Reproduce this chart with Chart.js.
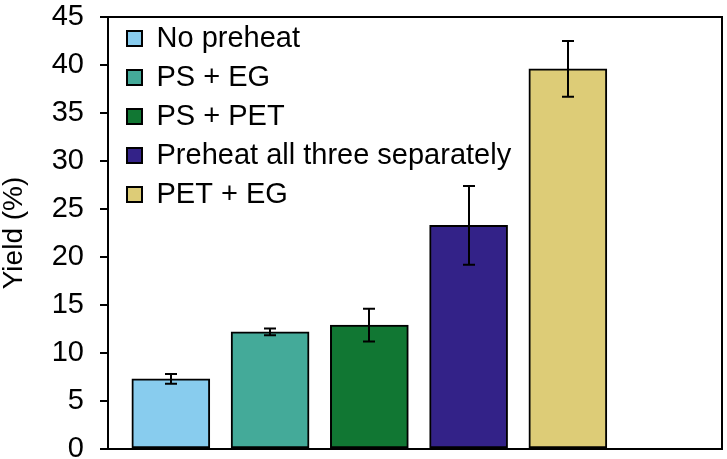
<!DOCTYPE html>
<html><head><meta charset="utf-8">
<script src="https://cdn.jsdelivr.net/npm/chart.js@4.4.1/dist/chart.umd.min.js"></script>
<style>html,body{margin:0;padding:0;background:#fff}#wrap{width:727px;height:459px}</style>
</head><body><div id="wrap"><canvas id="c" width="727" height="459"></canvas></div>
<script>
const categories = ['No preheat', 'PS + EG', 'PS + PET', 'Preheat all three separately', 'PET + EG'];
const yields = [7.3, 12.2, 12.9, 23.3, 39.6];
const errors = [0.5, 0.35, 1.7, 4.1, 2.9];
const colors = ['#88CCEE', '#44AA99', '#117733', '#332288', '#DDCC77'];
const yMin = 0, yMax = 45, yStep = 5;
const xMin = -0.633, xMax = 5.553;

const FONT = "'Liberation Sans', Arial, sans-serif";

const errorBars = {
  id: 'errorBars',
  afterDatasetsDraw(chart) {
    const {ctx, scales: {x, y}} = chart;
    ctx.save();
    ctx.strokeStyle = '#000';
    ctx.lineWidth = 2;
    const cap = 6;
    yields.forEach((v, i) => {
      const px = Math.round(x.getPixelForValue(i));
      const t = y.getPixelForValue(v + errors[i]);
      const b = y.getPixelForValue(v - errors[i]);
      ctx.beginPath();
      ctx.moveTo(px, t); ctx.lineTo(px, b);
      ctx.moveTo(px - cap, t); ctx.lineTo(px + cap, t);
      ctx.moveTo(px - cap, b); ctx.lineTo(px + cap, b);
      ctx.stroke();
    });
    ctx.restore();
  }
};

const frame = {
  id: 'frame',
  afterDatasetsDraw(chart) {
    const {ctx, chartArea: a} = chart;
    ctx.save();
    ctx.strokeStyle = '#000';
    ctx.lineWidth = 2;
    ctx.strokeRect(a.left, a.top, a.right - a.left, a.bottom - a.top);
    ctx.restore();
  }
};

const legendShift = {
  id: 'legendShift',
  afterLayout(chart) {
    const lg = chart.legend;
    if (lg) {
      const a = chart.chartArea;
      const h = lg.height;
      lg.left = a.left + 9;
      lg.top = a.top - 3;
      lg.bottom = lg.top + h;
    }
  }
};

new Chart(document.getElementById('c'), {
  type: 'bar',
  data: {
    datasets: categories.map((c, i) => ({
      label: c,
      data: [{x: i, y: yields[i]}],
      backgroundColor: colors[i],
      borderColor: '#000',
      borderWidth: 2,
      borderSkipped: false,
      barThickness: 78,
      grouped: false
    }))
  },
  options: {
    responsive: false,
    animation: false,
    layout: {padding: {top: 17, right: 5, bottom: 10, left: 0}},
    plugins: {
      legend: {
        position: 'chartArea',
        align: 'start',
        labels: {
          font: {size: 29, family: FONT},
          color: '#000',
          boxWidth: 15,
          boxHeight: 15,
          padding: 10
        }
      },
      tooltip: {enabled: false}
    },
    scales: {
      x: {type: 'linear', display: false, offset: false, min: xMin, max: xMax},
      y: {
        min: yMin, max: yMax,
        ticks: {stepSize: yStep, font: {size: 29, family: FONT, lineHeight: 1.1}, color: '#000', padding: 16},
        grid: {drawOnChartArea: false, drawTicks: true, tickLength: 8, color: '#000', lineWidth: 2},
        border: {display: true, color: '#000', width: 2},
        title: {display: true, text: 'Yield (%)', font: {size: 28, family: FONT, lineHeight: 1.05}, color: '#000', padding: {top: 0, bottom: 0}},
        afterFit(s) { s.width = 108; s.paddingTop = 0; s.paddingBottom = 0; }
      }
    }
  },
  plugins: [errorBars, frame, legendShift]
});
</script>
</body></html>
